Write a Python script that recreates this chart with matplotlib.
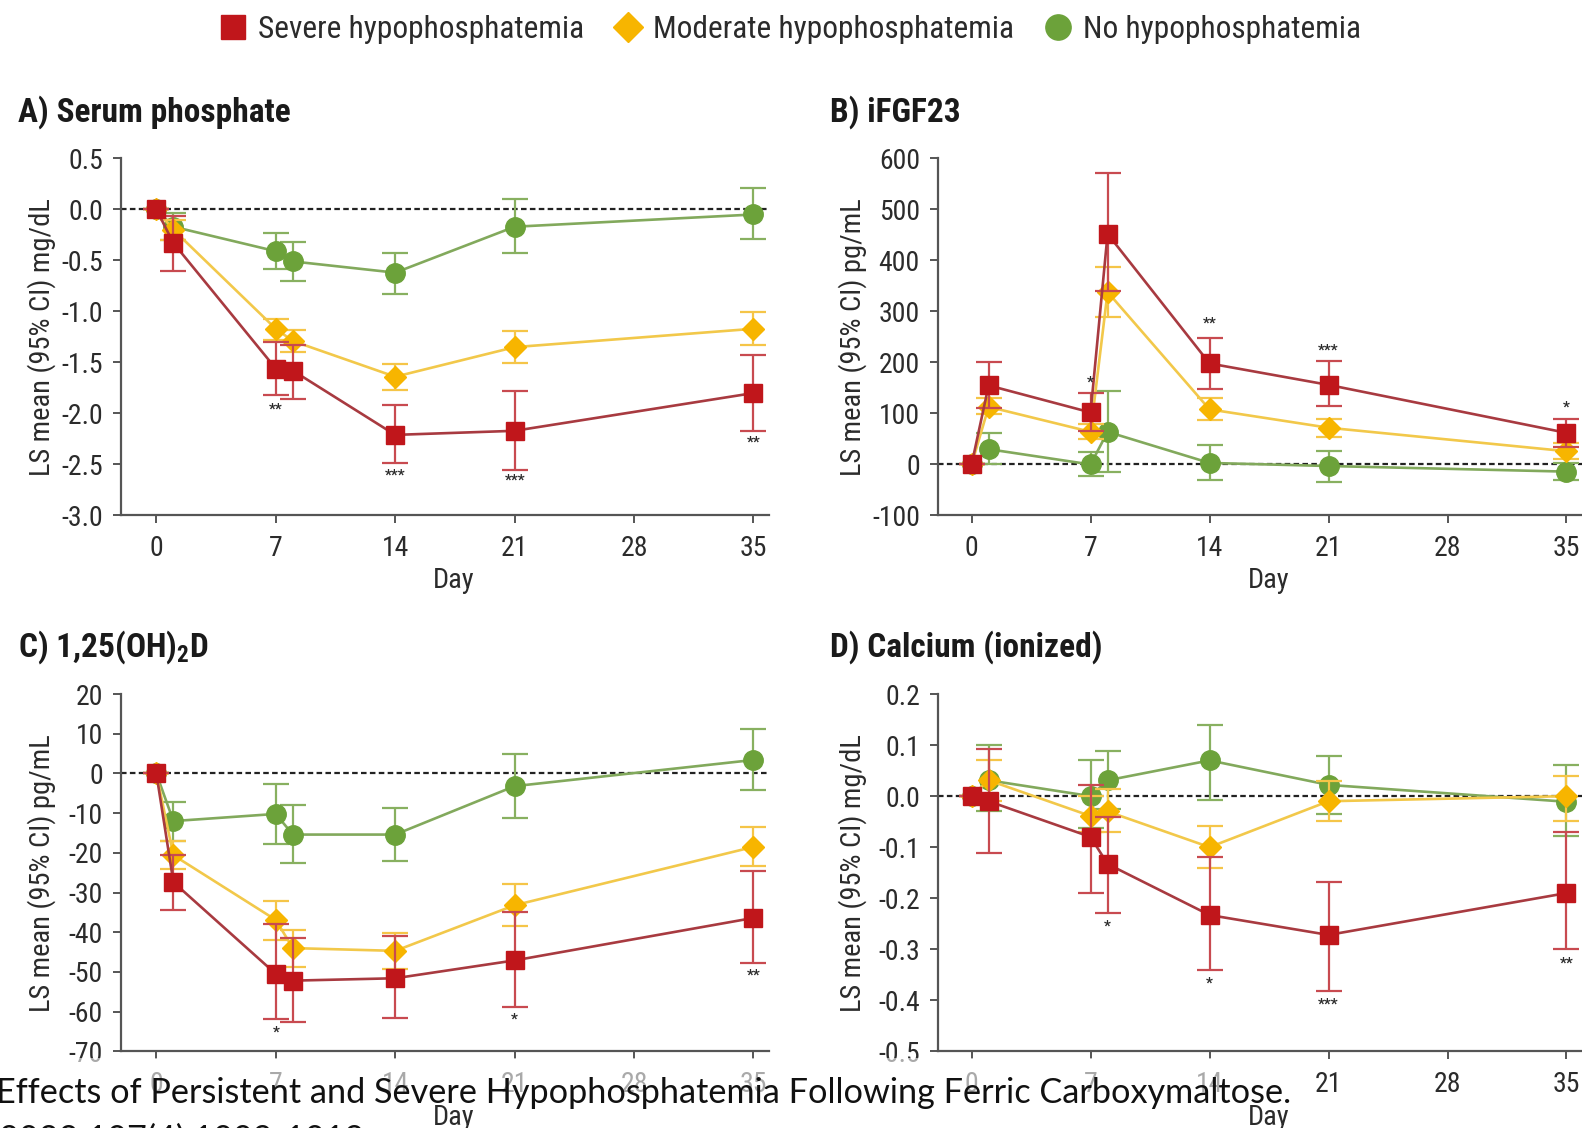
import matplotlib
matplotlib.use('Agg')
import matplotlib.pyplot as plt
from matplotlib.lines import Line2D
from matplotlib.patches import Rectangle

''' data read off the figure '''

days = [0, 1, 7, 8, 14, 21, 35]
xticks = [0, 7, 14, 21, 28, 35]
group_names = ['Severe hypophosphatemia', 'Moderate hypophosphatemia',
               'No hypophosphatemia']

# A) serum phosphate (mg/dL)
phos_sev = [0, -0.33, -1.56, -1.58, -2.21, -2.17, -1.80]
phos_sev_lo = [0, -0.60, -1.82, -1.86, -2.49, -2.55, -2.17]
phos_sev_hi = [0, -0.06, -1.30, -1.33, -1.92, -1.78, -1.43]
phos_mod = [0, -0.20, -1.17, -1.29, -1.64, -1.35, -1.17]
phos_mod_lo = [0, -0.30, -1.28, -1.40, -1.77, -1.51, -1.33]
phos_mod_hi = [0, -0.10, -1.07, -1.18, -1.52, -1.19, -1.01]
phos_no = [0, -0.17, -0.41, -0.51, -0.62, -0.17, -0.05]
phos_no_lo = [0, -0.30, -0.58, -0.70, -0.83, -0.43, -0.29]
phos_no_hi = [0, -0.04, -0.23, -0.32, -0.43, 0.10, 0.21]
phos_stars = [(7, -1.96, '**'), (14, -2.61, '***'), (21, -2.66, '***'),
              (35, -2.29, '**')]

# B) iFGF23 (pg/mL)
fgf_sev = [0, 155, 102, 452, 198, 156, 62]
fgf_sev_lo = [0, 111, 66, 340, 148, 115, 35]
fgf_sev_hi = [0, 201, 140, 572, 248, 202, 90]
fgf_mod = [0, 113, 64, 338, 108, 72, 26]
fgf_mod_lo = [0, 98, 49, 290, 87, 54, 10]
fgf_mod_hi = [0, 131, 80, 388, 131, 90, 43]
fgf_no = [0, 30, 0, 64, 3, -3, -14]
fgf_no_lo = [0, 0, -23, -15, -31, -34, -30]
fgf_no_hi = [0, 61, 25, 144, 38, 26, 2]
fgf_stars = [(7, 161, '*'), (14, 277, '**'), (21, 223, '***'), (35, 111, '*')]

# C) 1,25(OH)2D (pg/mL)
vitd_sev = [0, -27.4, -50.5, -52.2, -51.6, -47.1, -36.4]
vitd_sev_lo = [0, -34.3, -61.8, -62.7, -61.6, -58.9, -47.8]
vitd_sev_hi = [0, -20.5, -38.0, -41.5, -41.0, -35.0, -24.6]
vitd_mod = [0, -20.6, -36.9, -44.0, -44.7, -33.2, -18.5]
vitd_mod_lo = [0, -24.0, -41.9, -48.8, -49.2, -38.5, -23.2]
vitd_mod_hi = [0, -16.9, -32.2, -39.5, -40.2, -27.8, -13.5]
vitd_no = [0, -12.0, -10.2, -15.4, -15.4, -3.2, 3.4]
vitd_no_lo = [0, -16.9, -17.9, -22.5, -22.1, -11.2, -4.1]
vitd_no_hi = [0, -7.1, -2.6, -8.0, -8.7, 5.0, 11.1]
vitd_stars = [(7, -65.2, '*'), (21, -62, '*'), (35, -51, '**')]

# D) ionized calcium (mg/dL)
ca_sev = [0, -0.010, -0.080, -0.133, -0.233, -0.272, -0.190]
ca_sev_lo = [0, -0.111, -0.190, -0.229, -0.341, -0.382, -0.300]
ca_sev_hi = [0, 0.092, 0.021, -0.040, -0.120, -0.169, -0.070]
ca_mod = [0, 0.031, -0.039, -0.030, -0.100, -0.010, 0.000]
ca_mod_lo = [0, -0.010, -0.070, -0.070, -0.141, -0.049, -0.049]
ca_mod_hi = [0, 0.070, 0.000, 0.013, -0.059, 0.030, 0.039]
ca_no = [0, 0.031, 0.000, 0.031, 0.070, 0.022, -0.011]
ca_no_lo = [0, -0.030, -0.062, -0.026, -0.008, -0.036, -0.079]
ca_no_hi = [0, 0.100, 0.071, 0.088, 0.140, 0.079, 0.061]
ca_stars = [(8, -0.256, '*'), (14, -0.367, '*'), (21, -0.408, '***'),
            (35, -0.328, '**')]

caption_1 = 'Effects of Persistent and Severe Hypophosphatemia Following Ferric Carboxymaltose.'
caption_2 = 'Metab. 2022;107(4):1009-1019.'

''' styling '''

W, H = 1582, 1128
narrow = ['Roboto Condensed', 'Liberation Sans', 'DejaVu Sans']
caption_font = ['Lato', 'DejaVu Sans']
plt.rcParams['font.family'] = narrow
plt.rcParams['axes.unicode_minus'] = False
plt.rcParams['mathtext.fontset'] = 'custom'
plt.rcParams['mathtext.rm'] = 'Roboto Condensed'
plt.rcParams['mathtext.bf'] = 'Roboto Condensed:bold'

# (marker, line, errorbar) colours, marker shape and size per group
sev_style = ('#C0161B', '#A83A40', '#C84A50', 's', 13.5)
mod_style = ('#F7B500', '#F2C84A', '#F5C548', 'D', 11.5)
no_style = ('#6CA23A', '#82A95C', '#88B060', 'o', 14)
axis_col = '#555555'
text_col = '#2b2b2b'


def px(x, y):
    '''pixel position -> figure fraction'''
    return x / W, 1 - y / H


def draw_panel(ax, series, stars, ylim, yticks, fmt, xlim, ylabel):
    ax.axhline(0, color='#222222', lw=1.6, ls=(0, (2.5, 1.5)), zorder=1)
    for z, (m, lo, hi, st) in enumerate(series):
        mk_c, ln_c, er_c, mk, ms = st
        yerr = [[a - b for a, b in zip(m, lo)], [b - a for a, b in zip(m, hi)]]
        ax.errorbar(days, m, yerr=yerr, fmt='none', ecolor=er_c,
                    elinewidth=1.6, capsize=9.5, capthick=1.6, zorder=2 + 2 * z)
        ax.plot(days, m, color=ln_c, lw=1.9, zorder=2 + 2 * z)
        ax.plot(days, m, ls='none', marker=mk, ms=ms, mfc=mk_c, mec=mk_c,
                zorder=3 + 2 * z)
    for d, v, s in stars:
        ax.text(d, v, s, ha='center', va='center', fontsize=11,
                fontweight='bold', color=text_col, zorder=10)
    ax.set_xlim(xlim)
    ax.set_ylim(ylim)
    ax.set_yticks(yticks)
    ax.set_yticklabels([fmt % t for t in yticks])
    ax.set_xticks(xticks)
    for sp in ['top', 'right']:
        ax.spines[sp].set_visible(False)
    for sp in ['left', 'bottom']:
        ax.spines[sp].set_color(axis_col)
        ax.spines[sp].set_linewidth(1.6)
    ax.tick_params(direction='out', length=6, width=1.4, color=axis_col,
                   labelsize=20, labelcolor=text_col)
    ax.tick_params(axis='y', pad=7)
    ax.tick_params(axis='x', pad=8)
    ax.set_xlabel('Day', fontsize=20.5, color=text_col)
    ax.set_ylabel(ylabel, fontsize=20.5, color=text_col)
    ax.set_facecolor('none')


fig = plt.figure(figsize=(W / 100, H / 100), dpi=100)

ax_a = fig.add_axes([0.0765, 0.543, 0.4095, 0.3166])
ax_b = fig.add_axes([0.5929, 0.543, 0.4134, 0.3166])
ax_c = fig.add_axes([0.0765, 0.068, 0.4095, 0.3167])
ax_d = fig.add_axes([0.5929, 0.068, 0.4134, 0.3167])

left_x = (-2.07, 35.9)
right_x = (-1.98, 36.5)

draw_panel(ax_a, [(phos_no, phos_no_lo, phos_no_hi, no_style),
                  (phos_mod, phos_mod_lo, phos_mod_hi, mod_style),
                  (phos_sev, phos_sev_lo, phos_sev_hi, sev_style)],
           phos_stars, (-3.0, 0.5), [0.5, 0.0, -0.5, -1.0, -1.5, -2.0, -2.5, -3.0],
           '%.1f', left_x, 'LS mean (95% CI) mg/dL')
draw_panel(ax_b, [(fgf_no, fgf_no_lo, fgf_no_hi, no_style),
                  (fgf_mod, fgf_mod_lo, fgf_mod_hi, mod_style),
                  (fgf_sev, fgf_sev_lo, fgf_sev_hi, sev_style)],
           fgf_stars, (-100, 600), [600, 500, 400, 300, 200, 100, 0, -100],
           '%d', right_x, 'LS mean (95% CI) pg/mL')
draw_panel(ax_c, [(vitd_no, vitd_no_lo, vitd_no_hi, no_style),
                  (vitd_mod, vitd_mod_lo, vitd_mod_hi, mod_style),
                  (vitd_sev, vitd_sev_lo, vitd_sev_hi, sev_style)],
           vitd_stars, (-70, 20), [20, 10, 0, -10, -20, -30, -40, -50, -60, -70],
           '%d', left_x, 'LS mean (95% CI) pg/mL')
draw_panel(ax_d, [(ca_no, ca_no_lo, ca_no_hi, no_style),
                  (ca_mod, ca_mod_lo, ca_mod_hi, mod_style),
                  (ca_sev, ca_sev_lo, ca_sev_hi, sev_style)],
           ca_stars, (-0.5, 0.2), [0.2, 0.1, 0.0, -0.1, -0.2, -0.3, -0.4, -0.5],
           '%.1f', right_x, 'LS mean (95% CI) mg/dL')

# label placement (axes fractions)
ax_a.yaxis.set_label_coords(-0.100, 0.5)
ax_c.yaxis.set_label_coords(-0.100, 0.5)
ax_b.yaxis.set_label_coords(-0.108, 0.5)
ax_d.yaxis.set_label_coords(-0.108, 0.5)
ax_a.xaxis.set_label_coords(0.514, -0.144)
ax_c.xaxis.set_label_coords(0.514, -0.147)
ax_b.xaxis.set_label_coords(0.506, -0.144)
ax_d.xaxis.set_label_coords(0.506, -0.147)

# panel titles
titles = ['A) Serum phosphate', 'B) iFGF23', r'C) 1,25(OH)$_{\mathbf{2}}$D',
          'D) Calcium (ionized)']
title_pos = [(18, 112), (830, 112), (18, 647), (830, 647)]
for t, (x, y) in zip(titles, title_pos):
    fig.text(*px(x, y), t, fontsize=24, fontweight='bold', color='#1a1a1a',
             ha='left', va='center')

# legend
handles = [Line2D([], [], ls='none', marker=s[3], ms=s[4] * 1.3, mfc=s[0], mec=s[0])
           for s in (sev_style, mod_style, no_style)]
fig.legend(handles, group_names, loc='center', bbox_to_anchor=px(790, 29),
           ncol=3, frameon=False, fontsize=22.6, handlelength=0.9,
           handletextpad=0.35, columnspacing=0.95, labelcolor=text_col)

# caption overlay at the bottom (partly cut off in the source)
fig.add_artist(Rectangle(px(0, 1100), 1296 / W, 42 / H, transform=fig.transFigure,
                         fc='white', ec='none', alpha=0.6, zorder=5))
cap1 = fig.text(*px(-4, 1103), caption_1, fontsize=26, family=caption_font,
                color='#111111', ha='left', va='baseline', zorder=6)
cap2 = fig.text(*px(372, 1150), caption_2, fontsize=26, family=caption_font,
                color='#111111', ha='right', va='baseline', zorder=6)

# fit the caption to the width it takes in the source
r = fig.canvas.get_renderer()
cap_size = 26 * 1295 / cap1.get_window_extent(r).width
cap1.set_fontsize(cap_size)
cap2.set_fontsize(cap_size)

fig.savefig('out.png', dpi=100)
